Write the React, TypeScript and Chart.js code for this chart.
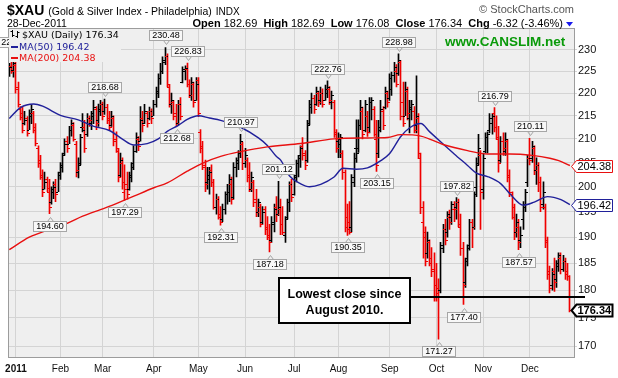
import React, { useEffect, useRef } from 'react';
import { Chart, registerables } from 'chart.js';

Chart.register(...registerables);

// ---------------- data ----------------
const monthLabels = ['2011', 'Feb', 'Mar', 'Apr', 'May', 'Jun', 'Jul', 'Aug', 'Sep', 'Oct', 'Nov', 'Dec'];
const monthStart = [3, 23, 42, 65, 85, 106, 128, 148, 171, 192, 213, 234];
const yTicks = [170, 175, 180, 185, 190, 195, 200, 205, 210, 215, 220, 225, 230];

const opens = [
  224.5, 226.2, 225.2, 226.5, 221.5, 216.5, 215.5, 213.5, 214.5, 212.0,
  215.5, 215.5, 212.5, 208.0, 205.5, 202.5, 199.5, 201.5, 199.0, 197.0,
  199.5, 200.5, 199.0, 203.0, 204.0, 207.0, 209.5, 209.0, 212.0, 213.0,
  209.0, 203.0, 205.0, 212.5, 212.5, 211.0, 214.5, 213.5, 215.0, 216.5,
  214.0, 216.0, 217.5, 216.0, 217.0, 214.5, 213.0, 214.5, 210.0, 207.5,
  202.5, 205.0, 199.0, 200.5, 199.5, 202.5, 205.0, 207.5, 210.0, 209.5,
  214.5, 213.5, 215.5, 214.5, 216.0, 215.0, 217.5, 220.0, 223.5, 225.0,
  227.5, 228.5, 221.5, 217.5, 218.0, 215.5, 213.5, 217.5, 222.5, 225.0,
  225.5, 222.0, 219.5, 222.0, 218.5, 223.0, 211.5, 208.5, 204.0, 201.0,
  201.5, 203.5, 201.0, 196.0, 197.5, 194.5, 193.5, 195.5, 198.5, 199.0,
  200.5, 198.0, 204.0, 205.0, 207.0, 209.0, 205.0, 205.5, 202.5, 199.5,
  201.0, 197.5, 195.0, 196.0, 193.0, 195.5, 192.0, 190.5, 189.5, 192.5,
  196.0, 194.5, 195.5, 192.5, 190.5, 194.0, 197.0, 200.5, 198.5, 202.0,
  205.0, 206.5, 208.5, 206.5, 205.5, 213.5, 217.0, 219.0, 217.5, 220.0,
  218.5, 220.0, 218.5, 220.0, 221.0, 218.0, 218.0, 211.5, 209.5, 209.0,
  207.0, 203.0, 194.0, 193.0, 192.0, 201.0, 208.0, 208.0, 213.0, 216.0,
  212.0, 215.0, 212.5, 218.0, 216.5, 210.0, 207.0, 212.0, 216.0, 217.0,
  220.0, 219.0, 221.0, 224.0, 225.0, 224.5, 227.0, 218.0, 215.0, 220.5,
  214.5, 216.5, 216.0, 213.0, 214.5, 206.0, 193.0, 190.0, 187.0, 189.0,
  186.0, 183.5, 181.0, 179.5, 180.0, 188.5, 191.5, 191.0, 194.0, 194.0,
  195.5, 196.0, 197.0, 192.0, 188.0, 181.5, 186.0, 188.5, 193.0, 192.0,
  200.0, 205.0, 206.5, 199.5, 207.5, 210.5, 212.0, 213.5, 215.5, 212.5,
  210.0, 205.5, 209.5, 207.5, 209.5, 202.5, 198.5, 194.0, 191.0, 192.0,
  189.5, 193.5, 196.0, 201.0, 206.0, 206.0, 208.0, 203.5, 204.5, 201.0,
  196.5, 196.0, 189.5, 183.0, 181.0, 183.5, 182.0, 185.0, 186.0, 184.0,
  185.5, 183.5, 182.69,
];
const highs = [
  226.8, 227.5, 227.3, 227.1, 222.5, 217.0, 217.0, 216.0, 214.8, 216.3,
  217.4, 216.0, 213.3, 208.5, 206.5, 203.5, 203.0, 202.0, 201.5, 200.0,
  201.0, 201.5, 203.0, 205.0, 207.0, 210.0, 210.5, 212.7, 214.1, 213.5,
  209.5, 206.0, 211.0, 215.5, 214.0, 215.5, 215.0, 216.0, 218.4, 217.0,
  217.6, 218.4, 218.0, 218.68, 217.5, 216.0, 216.0, 215.0, 211.5, 208.0,
  207.0, 206.0, 204.5, 203.0, 203.0, 205.0, 208.5, 211.3, 210.5, 217.0,
  216.0, 217.5, 216.0, 216.9, 216.5, 218.4, 221.4, 224.4, 226.8, 228.3,
  230.48, 229.0, 222.0, 220.0, 218.4, 217.5, 218.4, 219.0, 226.0, 226.2,
  226.83, 223.0, 223.5, 222.5, 223.5, 223.5, 212.0, 209.5, 205.5, 204.0,
  204.0, 204.5, 201.5, 198.5, 198.0, 196.0, 196.5, 199.0, 200.5, 202.5,
  202.0, 205.0, 206.0, 207.5, 210.97, 209.3, 208.0, 206.0, 205.0, 203.0,
  201.3, 199.5, 197.5, 196.5, 196.0, 196.0, 194.0, 192.5, 194.0, 196.5,
  198.0, 201.12, 197.5, 196.0, 194.0, 197.5, 201.0, 201.5, 203.0, 205.5,
  206.5, 208.5, 210.3, 207.5, 214.0, 218.4, 220.0, 219.5, 221.4, 220.5,
  221.4, 221.0, 221.8, 222.76, 221.5, 220.5, 218.4, 212.0, 211.3, 211.0,
  207.5, 203.5, 196.5, 197.0, 202.5, 207.0, 214.1, 214.1, 218.4, 216.9,
  218.4, 216.0, 219.0, 219.0, 217.0, 214.0, 214.0, 218.4, 217.0, 221.4,
  220.5, 224.4, 224.8, 227.0, 226.5, 228.98, 227.5, 222.5, 222.5, 221.4,
  218.4, 218.4, 217.0, 223.9, 215.5, 207.0, 197.0, 192.0, 191.0, 189.5,
  188.0, 187.0, 185.0, 182.1, 189.0, 192.5, 193.5, 195.0, 195.3, 197.0,
  197.0, 197.82, 197.5, 194.5, 189.0, 186.0, 188.5, 193.5, 193.5, 199.0,
  206.0, 211.0, 207.5, 207.0, 211.3, 211.5, 215.5, 215.5, 216.79, 215.0,
  212.7, 210.5, 211.3, 211.3, 209.9, 203.5, 199.0, 196.5, 194.5, 193.5,
  192.0, 197.0, 199.5, 206.5, 210.11, 209.5, 208.5, 206.0, 205.0, 202.0,
  201.0, 196.5, 190.0, 184.5, 184.0, 186.0, 185.5, 187.0, 187.0, 186.5,
  186.0, 185.0, 182.69,
];
const lows = [
  223.8, 224.5, 223.6, 220.0, 216.9, 214.1, 211.3, 213.0, 210.6, 212.0,
  213.3, 211.3, 208.5, 204.0, 201.5, 198.0, 199.5, 199.0, 194.6, 196.5,
  197.6, 197.0, 199.0, 201.5, 203.0, 206.5, 207.1, 209.0, 210.6, 209.5,
  202.0, 201.8, 204.5, 211.5, 207.1, 210.5, 212.7, 212.0, 213.3, 212.0,
  212.7, 215.0, 214.1, 215.3, 213.3, 212.0, 212.7, 208.5, 207.1, 201.0,
  202.0, 199.5, 197.29, 197.5, 199.3, 201.0, 203.5, 207.1, 207.5, 209.5,
  211.5, 213.3, 212.5, 214.1, 213.3, 215.0, 216.9, 219.0, 222.0, 224.4,
  226.5, 221.4, 216.9, 215.5, 214.1, 212.68, 213.0, 214.1, 222.3, 223.0,
  221.4, 219.0, 218.4, 216.9, 218.4, 214.8, 207.0, 203.5, 199.0, 199.5,
  198.5, 200.0, 195.5, 194.5, 193.5, 192.31, 193.0, 194.5, 196.5, 197.0,
  196.5, 197.5, 202.0, 203.5, 206.0, 203.5, 204.0, 201.0, 199.0, 199.0,
  196.0, 194.0, 194.0, 192.0, 192.5, 190.5, 189.5, 187.18, 189.0, 191.0,
  193.0, 194.2, 190.5, 190.5, 189.0, 193.5, 195.0, 197.0, 198.3, 201.0,
  202.0, 204.0, 205.5, 203.5, 205.0, 213.0, 215.5, 215.5, 217.3, 217.0,
  217.5, 216.9, 218.4, 219.0, 217.5, 216.5, 210.3, 207.1, 206.0, 206.0,
  201.5, 191.0, 190.35, 190.6, 191.0, 200.0, 205.0, 207.1, 212.0, 210.0,
  211.5, 210.5, 211.3, 214.1, 210.5, 203.15, 206.0, 211.5, 212.0, 216.5,
  216.9, 218.4, 219.5, 222.5, 221.4, 224.0, 214.1, 212.7, 215.0, 214.1,
  211.3, 214.1, 211.3, 211.3, 205.8, 194.6, 186.0, 184.5, 186.0, 184.5,
  182.5, 178.0, 178.0, 171.27, 179.5, 187.0, 188.5, 190.0, 191.5, 192.5,
  193.0, 193.5, 192.0, 186.5, 177.40, 180.5, 184.5, 187.5, 188.0, 191.5,
  198.0, 204.5, 191.5, 197.5, 207.0, 207.0, 211.3, 211.0, 211.5, 209.9,
  203.0, 205.0, 206.5, 206.5, 201.0, 198.0, 193.5, 189.5, 190.0, 187.57,
  188.0, 191.5, 195.0, 200.0, 204.5, 205.0, 202.5, 200.5, 199.0, 195.0,
  195.5, 188.0, 182.0, 179.5, 180.0, 179.8, 180.5, 183.5, 183.0, 183.5,
  182.0, 181.8, 176.08,
];
const closes = [
  226.0, 225.0, 226.8, 221.0, 217.5, 214.8, 212.0, 214.0, 211.3, 215.0,
  216.5, 212.0, 209.2, 205.0, 202.0, 199.0, 201.0, 199.8, 196.0, 199.0,
  200.0, 198.5, 202.5, 204.5, 206.5, 209.0, 208.0, 212.0, 213.5, 210.0,
  203.5, 204.5, 210.5, 212.0, 208.0, 214.5, 214.0, 215.5, 217.0, 213.5,
  216.5, 217.5, 215.0, 217.0, 214.0, 212.5, 215.0, 209.5, 208.0, 202.0,
  205.5, 201.0, 199.5, 198.5, 202.0, 204.0, 207.5, 210.5, 208.5, 214.0,
  213.0, 216.0, 213.5, 216.0, 214.5, 217.5, 220.5, 223.5, 225.0, 227.0,
  228.5, 222.0, 217.5, 218.5, 215.0, 213.5, 217.5, 215.0, 225.5, 225.8,
  222.0, 219.5, 222.5, 218.0, 222.0, 215.5, 208.0, 204.5, 200.5, 202.5,
  203.0, 201.0, 196.0, 197.5, 194.0, 193.0, 195.5, 198.5, 199.0, 201.5,
  197.5, 204.0, 205.5, 207.0, 209.5, 205.0, 206.5, 202.0, 199.5, 202.0,
  197.0, 195.0, 197.0, 192.5, 195.0, 191.5, 190.0, 189.0, 193.0, 195.5,
  194.5, 196.0, 192.5, 191.0, 193.5, 197.0, 200.5, 198.0, 202.5, 205.0,
  206.0, 208.0, 207.0, 204.5, 213.0, 217.5, 219.0, 216.5, 220.5, 218.0,
  220.0, 217.5, 221.0, 221.5, 218.5, 219.5, 211.0, 208.0, 210.0, 210.5,
  203.0, 192.0, 191.5, 191.0, 202.0, 206.0, 207.0, 213.0, 217.0, 211.0,
  217.5, 211.5, 218.0, 218.5, 211.0, 204.5, 212.5, 216.5, 213.0, 220.5,
  218.0, 223.5, 224.0, 226.0, 222.0, 227.5, 215.0, 213.5, 221.0, 215.5,
  217.0, 217.5, 212.0, 215.0, 207.0, 196.0, 191.0, 185.5, 189.5, 185.0,
  184.0, 181.0, 180.5, 178.7, 188.0, 191.5, 189.5, 194.5, 193.0, 196.5,
  195.5, 197.0, 192.5, 188.0, 181.0, 185.5, 188.0, 193.0, 192.0, 198.5,
  204.5, 208.0, 199.0, 206.0, 210.5, 211.0, 214.5, 215.0, 212.5, 210.5,
  205.0, 209.5, 208.0, 210.0, 202.0, 199.0, 196.0, 191.0, 193.0, 189.0,
  190.5, 196.5, 199.0, 206.0, 205.5, 208.5, 203.5, 204.5, 201.0, 196.0,
  199.0, 189.0, 183.5, 180.5, 183.0, 181.5, 184.5, 186.5, 184.0, 185.5,
  183.0, 182.66, 176.34,
];

const ma50Idx = [0, 5, 11, 15, 23, 31, 38, 45, 51, 56, 62, 67, 71, 76, 80, 85, 90, 95, 104, 112, 116, 120, 122, 126, 131, 135, 140, 146, 150, 156, 161, 167, 171, 176, 180, 185, 189, 195, 200, 206, 210, 215, 221, 225, 231, 236, 242, 248, 252];
const ma50Val = [214.4, 216.8, 217.6, 217.1, 215.1, 214.1, 212.7, 211.8, 209.9, 208.7, 209.0, 210.0, 211.6, 212.9, 214.2, 215.0, 214.5, 214.0, 212.5, 210.2, 208.6, 206.3, 205.5, 202.2, 200.6, 200.0, 200.5, 202.0, 203.8, 203.6, 203.9, 205.4, 206.9, 210.5, 212.4, 213.3, 211.5, 208.9, 206.8, 204.4, 202.8, 202.1, 200.6, 198.6, 196.3, 196.9, 198.0, 197.4, 196.42];
const ma200Idx = [0, 9, 18, 26, 33, 41, 47, 56, 65, 71, 80, 87, 95, 104, 116, 131, 146, 161, 170, 176, 185, 195, 206, 215, 225, 235, 243, 247, 252];
const ma200Val = [187.6, 190.0, 191.5, 192.7, 194.1, 195.4, 196.4, 198.1, 199.8, 200.8, 203.2, 204.9, 206.3, 207.3, 208.3, 209.0, 210.0, 210.2, 210.3, 210.9, 210.6, 208.8, 207.5, 206.8, 206.8, 206.5, 205.9, 205.4, 204.38];

const hiLabelIdx = [43, 70, 80, 104, 121, 143, 175, 201, 218, 234];
const loLabelIdx = [18, 52, 75, 95, 117, 152, 165, 193, 204, 229];
const offChartHigh = 228.96;
const lowCloseLevel = 178.7;

// ---------------- styles ----------------
const FONT = '"Liberation Sans", Arial, Helvetica, sans-serif';
const DFONT = '"DejaVu Sans", Verdana, sans-serif';
const PLOT_BG = '#efefef';
const GRID = '#d4d4d4';
const RED = '#f00000';
const MA50_C = '#20209a';
const MA200_C = '#e81010';
const BAR_DS = 2;

const barColors = closes.map((c, i) => (i > 0 && c < closes[i - 1] ? RED : '#000000'));

function valueLabel(ctx: CanvasRenderingContext2D, x: number, tipY: number, text: string, above: boolean) {
  ctx.font = `9px ${FONT}`;
  const tw = ctx.measureText(text).width;
  const w = Math.round(tw + 5);
  const h = 10;
  const cx = Math.round(x) + 0.5;
  const bx = Math.round(x - w / 2) + 0.5;
  const by = above ? Math.round(tipY - 7 - h) + 0.5 : Math.round(tipY + 7) + 0.5;
  ctx.fillStyle = '#f8f8f8';
  ctx.strokeStyle = '#a6a6a6';
  ctx.lineWidth = 1;
  ctx.fillRect(bx, by, w, h);
  ctx.strokeRect(bx, by, w, h);
  ctx.beginPath();
  if (above) {
    ctx.moveTo(cx - 3, by + h); ctx.lineTo(cx, by + h + 4); ctx.lineTo(cx + 3, by + h);
  } else {
    ctx.moveTo(cx - 3, by); ctx.lineTo(cx, by - 4); ctx.lineTo(cx + 3, by);
  }
  ctx.stroke();
  ctx.fillStyle = '#000';
  ctx.textAlign = 'center';
  ctx.textBaseline = 'middle';
  ctx.fillText(text, bx + w / 2, by + h / 2 + 0.5);
}

function tag(ctx: CanvasRenderingContext2D, yc: number, text: string, color: string, bold: boolean, lw: number) {
  const x0 = 571.5, x1 = 612.5, hh = 6;
  ctx.beginPath();
  ctx.moveTo(x0, yc);
  ctx.lineTo(x0 + 5, yc - hh);
  ctx.lineTo(x1, yc - hh);
  ctx.lineTo(x1, yc + hh);
  ctx.lineTo(x0 + 5, yc + hh);
  ctx.closePath();
  ctx.fillStyle = '#ffffff';
  ctx.fill();
  ctx.strokeStyle = color;
  ctx.lineWidth = lw;
  ctx.stroke();
  ctx.fillStyle = '#000';
  ctx.font = `${bold ? 'bold ' : ''}11px ${FONT}`;
  ctx.textAlign = 'left';
  ctx.textBaseline = 'middle';
  ctx.fillText(text, x0 + 6, yc + 0.5);
}

const decorPlugin = {
  id: 'decor',
  beforeDraw(chart: any) {
    const { ctx, chartArea: a, width, height } = chart;
    ctx.save();
    ctx.fillStyle = '#ffffff';
    ctx.fillRect(0, 0, width, height);
    ctx.fillStyle = PLOT_BG;
    ctx.fillRect(a.left, a.top, a.right - a.left, a.bottom - a.top);
    ctx.restore();
  },
  beforeDatasetDraw(chart: any, args: any) {
    if (args.index !== BAR_DS) return;
    const meta = chart.getDatasetMeta(BAR_DS);
    meta.data.forEach((el: any) => { el.x = Math.floor(el.x) + 0.5; });
  },
  afterDatasetDraw(chart: any, args: any) {
    if (args.index !== BAR_DS) return;
    const { ctx } = chart;
    const ys = chart.scales.y;
    const meta = chart.getDatasetMeta(BAR_DS);
    ctx.save();
    ctx.beginPath();
    ctx.rect(chart.chartArea.left, chart.chartArea.top, chart.chartArea.right - chart.chartArea.left, chart.chartArea.bottom - chart.chartArea.top);
    ctx.clip();
    ctx.lineWidth = 1;
    meta.data.forEach((el: any, i: number) => {
      const x = el.x;
      const yo = Math.round(ys.getPixelForValue(opens[i])) + 0.5;
      const yc = Math.round(ys.getPixelForValue(closes[i])) + 0.5;
      ctx.strokeStyle = barColors[i];
      ctx.beginPath();
      ctx.moveTo(x - 2.5, yo); ctx.lineTo(x - 0.5, yo);
      ctx.moveTo(x + 0.5, yc); ctx.lineTo(x + 2.5, yc);
      ctx.stroke();
    });
    ctx.restore();
  },
  afterDraw(chart: any) {
    const { ctx, chartArea: a } = chart;
    const ys = chart.scales.y;
    const meta = chart.getDatasetMeta(BAR_DS);
    const last = closes.length - 1;
    ctx.save();

    // plot frame
    ctx.strokeStyle = '#9c9c9c';
    ctx.lineWidth = 1;
    ctx.strokeRect(Math.round(a.left) + 0.5, Math.round(a.top) + 0.5, Math.round(a.right - a.left) - 1, Math.round(a.bottom - a.top) - 1);

    // high / low value labels
    hiLabelIdx.forEach((i) => valueLabel(ctx, meta.data[i].x, ys.getPixelForValue(highs[i]), highs[i].toFixed(2), true));
    loLabelIdx.forEach((i) => valueLabel(ctx, meta.data[i].x, ys.getPixelForValue(lows[i]), lows[i].toFixed(2), false));

    // label of an off-chart high at the far left (mostly hidden)
    ctx.save();
    ctx.beginPath();
    ctx.rect(0, 0, 9, 378);
    ctx.clip();
    valueLabel(ctx, 14, ys.getPixelForValue(offChartHigh), offChartHigh.toFixed(2), true);
    ctx.restore();

    // legend block
    ctx.fillStyle = PLOT_BG;
    ctx.fillRect(9, 29, 112, 33);
    // ohlc icon
    ctx.strokeStyle = '#000';
    ctx.lineWidth = 1;
    ctx.beginPath();
    ctx.moveTo(12.5, 30); ctx.lineTo(12.5, 37);
    ctx.moveTo(10.5, 31.5); ctx.lineTo(12.5, 31.5);
    ctx.moveTo(12.5, 35.5); ctx.lineTo(14.5, 35.5);
    ctx.moveTo(17.5, 31); ctx.lineTo(17.5, 38);
    ctx.moveTo(15.5, 36.5); ctx.lineTo(17.5, 36.5);
    ctx.moveTo(17.5, 32.5); ctx.lineTo(19.5, 32.5);
    ctx.stroke();
    ctx.textAlign = 'left';
    ctx.textBaseline = 'alphabetic';
    ctx.font = `9.5px ${DFONT}`;
    ctx.fillStyle = '#000';
    ctx.fillText(`$XAU (Daily) ${closes[last].toFixed(2)}`, 22, 38);
    ctx.fillStyle = MA50_C;
    ctx.fillRect(11, 46, 7, 2);
    ctx.fillText(`MA(50) ${ma50Val[ma50Val.length - 1].toFixed(2)}`, 19, 50);
    ctx.fillStyle = MA200_C;
    ctx.fillRect(11, 57, 7, 2);
    ctx.fillText(`MA(200) ${ma200Val[ma200Val.length - 1].toFixed(2)}`, 19, 61);

    // watermark
    ctx.font = `bold 13.5px ${FONT}`;
    ctx.fillStyle = '#0a9a0a';
    ctx.fillText('www.CANSLIM.net', 445, 46);

    // header line 1
    ctx.fillStyle = '#000';
    ctx.font = `bold 14px ${FONT}`;
    ctx.fillText('$XAU', 7, 15);
    let x = 7 + ctx.measureText('$XAU').width + 4;
    ctx.font = `10.5px ${FONT}`;
    const title = '(Gold & Silver Index - Philadelphia)';
    ctx.fillText(title, x, 15);
    x += ctx.measureText(title).width + 4;
    ctx.font = `10px ${FONT}`;
    ctx.fillText('INDX', x, 15);
    ctx.textAlign = 'right';
    ctx.fillStyle = '#555';
    ctx.font = `11px ${FONT}`;
    ctx.fillText('\u00A9 StockCharts.com', 574, 13);

    // header line 2
    ctx.textAlign = 'left';
    ctx.fillStyle = '#000';
    ctx.font = `10.5px ${FONT}`;
    ctx.fillText('28-Dec-2011', 7, 27);
    const chg = closes[last] - closes[last - 1];
    const pct = (chg / closes[last - 1]) * 100;
    const segs: [string, boolean][] = [
      ['Open', true], [` ${opens[last].toFixed(2)}  `, false],
      ['High', true], [` ${highs[last].toFixed(2)}  `, false],
      ['Low', true], [` ${lows[last].toFixed(2)}  `, false],
      ['Close', true], [` ${closes[last].toFixed(2)}  `, false],
      ['Chg', true], [` ${chg.toFixed(2)} (${pct.toFixed(2)}%)`, false],
    ];
    let total = 0;
    segs.forEach(([t, b]) => { ctx.font = `${b ? 'bold ' : ''}11px ${FONT}`; total += ctx.measureText(t).width; });
    let sx = 563 - total;
    segs.forEach(([t, b]) => { ctx.font = `${b ? 'bold ' : ''}11px ${FONT}`; ctx.fillText(t, sx, 27); sx += ctx.measureText(t).width; });
    ctx.fillStyle = '#1a1aee';
    ctx.beginPath();
    ctx.moveTo(566, 22); ctx.lineTo(573, 22); ctx.lineTo(569.5, 26.5); ctx.closePath();
    ctx.fill();

    // lowest-close annotation
    const ly = Math.round(ys.getPixelForValue(lowCloseLevel));
    ctx.fillStyle = '#000';
    ctx.fillRect(278, ly - 1, 307, 2);
    ctx.fillStyle = '#ffffff';
    ctx.fillRect(278, 277, 133, 47);
    ctx.strokeStyle = '#000';
    ctx.lineWidth = 2;
    ctx.strokeRect(279, 278, 131, 45);
    ctx.fillStyle = '#000';
    ctx.font = `bold 12.5px ${FONT}`;
    ctx.textAlign = 'center';
    ctx.textBaseline = 'alphabetic';
    ctx.fillText('Lowest close since', 344.5, 298);
    ctx.fillText('August 2010.', 344.5, 314);

    // right-side value tags
    tag(ctx, Math.round(ys.getPixelForValue(ma200Val[ma200Val.length - 1])) + 0.5, ma200Val[ma200Val.length - 1].toFixed(2), MA200_C, false, 1);
    tag(ctx, Math.round(ys.getPixelForValue(ma50Val[ma50Val.length - 1])) + 0.5, ma50Val[ma50Val.length - 1].toFixed(2), MA50_C, false, 1);
    tag(ctx, Math.round(ys.getPixelForValue(closes[last])) + 0.5, closes[last].toFixed(2), '#000', true, 2);

    ctx.restore();
  },
};

export default function App() {
  const ref = useRef<HTMLCanvasElement>(null);
  useEffect(() => {
    document.body.style.margin = '0';
    const canvas = ref.current!;
    const barData = closes.map((_, i) => ({ x: i, y: [lows[i], highs[i]] }));
    const chart = new Chart(canvas, {
      type: 'bar',
      data: {
        datasets: [
          {
            type: 'line',
            label: 'MA(200)',
            data: ma200Idx.map((x, k) => ({ x, y: ma200Val[k] })),
            borderColor: MA200_C,
            borderWidth: 1.4,
            pointRadius: 0,
            cubicInterpolationMode: 'monotone',
            order: 0,
          } as any,
          {
            type: 'line',
            label: 'MA(50)',
            data: ma50Idx.map((x, k) => ({ x, y: ma50Val[k] })),
            borderColor: MA50_C,
            borderWidth: 1.4,
            pointRadius: 0,
            cubicInterpolationMode: 'monotone',
            order: 1,
          } as any,
          {
            type: 'bar',
            label: '$XAU',
            data: barData as any,
            backgroundColor: barColors,
            borderWidth: 0,
            barThickness: 1,
            grouped: false,
            order: 2,
          } as any,
        ],
      },
      options: {
        responsive: false,
        animation: false,
        devicePixelRatio: 1,
        events: [],
        layout: { padding: { left: 8, top: 28, right: 0, bottom: 0 } },
        plugins: { legend: { display: false }, tooltip: { enabled: false } },
        scales: {
          x: {
            type: 'linear',
            min: -0.45,
            max: 254.3,
            offset: false,
            grid: { color: GRID, drawTicks: false, offset: false },
            border: { display: false },
            afterBuildTicks: (s: any) => { s.ticks = monthStart.map((v) => ({ value: v })); },
            afterFit: (s: any) => { s.height = 20; },
            ticks: {
              autoSkip: false,
              maxRotation: 0,
              padding: 5,
              color: '#111',
              font: (c: any) => ({ family: FONT, size: 10, weight: c.tick && c.tick.value === monthStart[0] ? 'bold' : 'normal' }),
              callback: (v: any) => {
                const k = monthStart.indexOf(Number(v));
                return k >= 0 ? monthLabels[k] : '';
              },
            },
          },
          y: {
            type: 'logarithmic',
            position: 'right',
            min: 168.0,
            max: 235.1,
            grid: { color: GRID, drawTicks: true, tickLength: 2 },
            border: { display: false },
            afterBuildTicks: (s: any) => { s.ticks = yTicks.map((v) => ({ value: v })); },
            afterFit: (s: any) => { s.width = 43; },
            ticks: {
              autoSkip: false,
              padding: 1,
              color: '#111',
              font: { family: FONT, size: 11 },
              callback: (v: any) => String(v),
            },
          },
        } as any,
      },
      plugins: [decorPlugin],
    } as any);
    return () => chart.destroy();
  }, []);
  return (
    <canvas ref={ref} width={618} height={378} style={{ display: 'block', width: 618, height: 378 }} />
  );
}
